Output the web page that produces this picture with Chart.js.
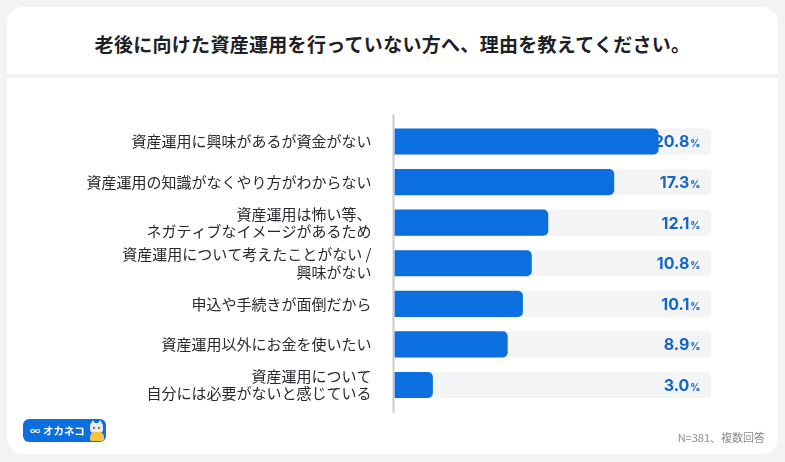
<!DOCTYPE html>
<html lang="ja">
<head>
<meta charset="utf-8">
<script src="https://cdn.jsdelivr.net/npm/chart.js@4.4.1/dist/chart.umd.min.js"></script>
<style>
  html, body { margin:0; padding:0; width:785px; height:462px; overflow:hidden; background:#f2f3f3; font-family:"Noto Sans CJK JP","Noto Sans",sans-serif; }
  #card { position:absolute; left:7px; top:7px; width:771px; height:447px; background:#fff; border-radius:16px; overflow:hidden; }
  #sep { position:absolute; left:0; top:67px; width:771px; height:4px; background:#f0f1f2; }
  #title { position:absolute; left:0; top:31px; width:785px; text-align:center; font-size:19px; font-weight:700; color:#1d2126; letter-spacing:0.3px; line-height:26px; }
  #logo { position:absolute; left:23px; top:419px; width:83px; height:23px; background:#0b6fe0; border-radius:6px; color:#fff; font-weight:700; font-size:10.5px; line-height:23px; }
  #logo span.t { position:absolute; left:7px; top:0; letter-spacing:0px; }
  #note { position:absolute; right:20px; top:429px; font-size:11px; color:#8a8d90; }
  canvas#c { position:absolute; left:0; top:0; }
  .cat-head { position:absolute; left:67px; top:4px; width:13px; height:10px; background:#e9e9ea; border-radius:4px; }
  .cat-ear1, .cat-ear2 { position:absolute; top:1px; width:0; height:0; border-left:3px solid transparent; border-right:3px solid transparent; border-bottom:5px solid #e9e9ea; }
  .cat-ear1 { left:67px; } .cat-ear2 { left:74px; }
  .cat-body { position:absolute; left:67px; top:13px; width:14px; height:9px; background:#f4c43a; border-radius:5px 5px 2px 2px; }
  .cat-eye { position:absolute; top:8px; width:2px; height:2px; background:#555; border-radius:1px; }
</style>
</head>
<body>
<div id="card"><div id="sep"></div></div>
<div id="title">老後に向けた資産運用を行っていない方へ、理由を教えてください。</div>
<canvas id="c" width="785" height="462"></canvas>
<div id="logo"><span class="t">∞ オカネコ</span>
  <div class="cat-ear1"></div><div class="cat-ear2"></div>
  <div class="cat-head"></div><div class="cat-body"></div>
  <div class="cat-eye" style="left:70px"></div><div class="cat-eye" style="left:75px"></div>
</div>
<div id="note">N=381、複数回答</div>
<script>
const categories = [
  ["資産運用に興味があるが資金がない"],
  ["資産運用の知識がなくやり方がわからない"],
  ["資産運用は怖い等、", "ネガティブなイメージがあるため"],
  ["資産運用について考えたことがない /", "興味がない"],
  ["申込や手続きが面倒だから"],
  ["資産運用以外にお金を使いたい"],
  ["資産運用について", "自分には必要がないと感じている"]
];
const percentages = [20.8, 17.3, 12.1, 10.8, 10.1, 8.9, 3.0];
const valueLabels = ["20.8", "17.3", "12.1", "10.8", "10.1", "8.9", "3.0"];
const axisMax = 25;
const trackValues = categories.map(() => axisMax);

const valuePlugin = {
  id: 'valueLabels',
  afterDatasetsDraw(chart) {
    const ctx = chart.ctx;
    const xs = chart.scales.x, ys = chart.scales.y;
    const right = xs.getPixelForValue(axisMax) - 11;
    ctx.save();
    ctx.fillStyle = '#1565c6';
    ctx.textBaseline = 'alphabetic';
    valueLabels.forEach((lab, i) => {
      const y = ys.getPixelForValue(i) + 6;
      ctx.font = '700 10px Inter, Roboto, sans-serif';
      ctx.textAlign = 'right';
      ctx.fillText('%', right, y);
      const pw = ctx.measureText('%').width;
      ctx.font = '700 16px Inter, Roboto, sans-serif';
      ctx.fillText(lab, right - pw - 1, y);
    });
    ctx.restore();
  }
};

const axisLinePlugin = {
  id: 'axisLine',
  beforeDatasetsDraw(chart) {
    const ctx = chart.ctx;
    const x = chart.chartArea.left - 1;
    ctx.save();
    ctx.strokeStyle = '#c9cacc';
    ctx.lineWidth = 2;
    ctx.beginPath();
    ctx.moveTo(x, chart.chartArea.top - 7);
    ctx.lineTo(x, chart.chartArea.bottom + 7.5);
    ctx.stroke();
    ctx.restore();
  }
};

new Chart(document.getElementById('c'), {
  type: 'bar',
  data: {
    labels: categories,
    datasets: [
      { data: percentages, backgroundColor: '#0b6fe0', borderRadius: 5, borderSkipped: 'start', grouped: false, order: 1, barThickness: 25.5 },
      { data: trackValues, backgroundColor: '#f2f4f6', borderRadius: 5, borderSkipped: 'start', grouped: false, order: 2, barThickness: 25.5 }
    ]
  },
  options: {
    indexAxis: 'y',
    responsive: false,
    animation: false,
    devicePixelRatio: 1,
    layout: { padding: { left: 0, right: 73.5, top: 121.2, bottom: 56.7 } },
    plugins: { legend: { display: false }, tooltip: { enabled: false }, title: { display: false } },
    scales: {
      x: { display: false, min: 0, max: axisMax },
      y: {
        afterFit(scale) { scale.width = 394.5; },
        grid: { display: false, drawTicks: false },
        border: { display: false },
        ticks: { padding: 23, color: '#26292d', font: { family: '"Noto Sans CJK JP", sans-serif', size: 15, lineHeight: 1.17 } }
      }
    }
  },
  plugins: [axisLinePlugin, valuePlugin]
});
</script>
</body>
</html>
